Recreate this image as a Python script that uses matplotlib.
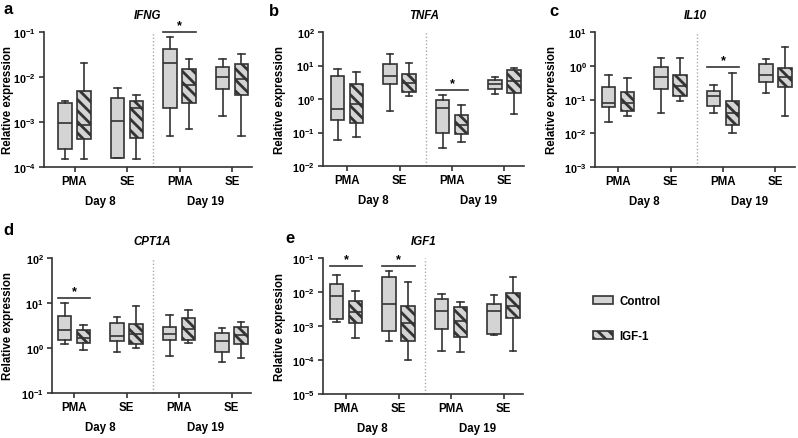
import matplotlib
matplotlib.use("Agg")
import matplotlib.pyplot as plt
from matplotlib.patches import Patch
import numpy as np

plt.rcParams['font.family'] = ['Liberation Sans', 'DejaVu Sans']
plt.rcParams['font.weight'] = 'bold'
plt.rcParams['mathtext.fontset'] = 'custom'
plt.rcParams['mathtext.rm'] = 'Liberation Sans:bold'
plt.rcParams['mathtext.bf'] = 'Liberation Sans:bold'
plt.rcParams['mathtext.it'] = 'Liberation Sans:italic:bold'
plt.rcParams['mathtext.default'] = 'bf'
plt.rcParams['hatch.linewidth'] = 2.0

# ---- data: each box = [whisker low, Q1, median, Q3, whisker high]
# order: D8 PMA ctrl, D8 PMA IGF, D8 SE ctrl, D8 SE IGF, D19 PMA ctrl, D19 PMA IGF, D19 SE ctrl, D19 SE IGF
ifng = [[0.00015, 0.00025, 0.00093, 0.0026, 0.003],
        [0.00015, 0.00042, 0.00085, 0.0048, 0.02],
        [0.000155, 0.000158, 0.00107, 0.0034, 0.0058],
        [0.00015, 0.00045, 0.0021, 0.003, 0.0039],
        [0.0005, 0.002, 0.02, 0.041, 0.079],
        [0.00069, 0.0027, 0.0067, 0.0148, 0.0245],
        [0.00138, 0.0054, 0.0102, 0.0163, 0.0245],
        [0.00048, 0.004, 0.0091, 0.0196, 0.033]]
tnfa = [[0.06, 0.24, 0.52, 4.9, 8.1],
        [0.074, 0.19, 0.7, 2.9, 6.3],
        [0.44, 2.9, 4.7, 11, 22],
        [1.2, 1.66, 3.0, 5.5, 12],
        [0.035, 0.095, 0.55, 0.92, 1.33],
        [0.052, 0.093, 0.17, 0.33, 0.65],
        [1.38, 2.0, 2.9, 3.8, 4.4],
        [0.35, 1.52, 3.5, 7.2, 8.5]]
il10 = [[0.022, 0.062, 0.077, 0.24, 0.53],
        [0.033, 0.045, 0.08, 0.17, 0.42],
        [0.041, 0.21, 0.48, 0.89, 1.7],
        [0.089, 0.125, 0.25, 0.52, 1.75],
        [0.040, 0.066, 0.125, 0.18, 0.27],
        [0.01, 0.017, 0.04, 0.089, 0.59],
        [0.16, 0.34, 0.53, 1.1, 1.6],
        [0.032, 0.23, 0.45, 0.85, 3.5]]
cpt1a = [[1.25, 1.48, 2.5, 5.2, 9.8],
         [0.89, 1.29, 1.7, 2.5, 3.3],
         [0.82, 1.45, 1.88, 3.6, 4.9],
         [0.98, 1.25, 2.0, 3.5, 8.7],
         [0.65, 1.48, 2.0, 2.9, 5.4],
         [1.29, 1.54, 2.6, 4.7, 6.9],
         [0.50, 0.80, 1.41, 2.15, 2.8],
         [0.60, 1.2, 1.9, 2.96, 3.7]]
igf1 = [[0.0013, 0.0016, 0.0076, 0.0175, 0.032],
        [0.00044, 0.00123, 0.0025, 0.0054, 0.011],
        [0.00036, 0.0007, 0.0043, 0.0276, 0.041],
        [0.0001, 0.00037, 0.0012, 0.0038, 0.0196],
        [0.00019, 0.00083, 0.0028, 0.0063, 0.0087],
        [0.000173, 0.00048, 0.0014, 0.0036, 0.0052],
        [0.00056, 0.0006, 0.0028, 0.0044, 0.0081],
        [0.00019, 0.0017, 0.004, 0.0095, 0.0275]]

genes = ['IFNG', 'TNFA', 'IL10', 'CPT1A', 'IGF1']
letters = ['a', 'b', 'c', 'd', 'e']
stats_all = [ifng, tnfa, il10, cpt1a, igf1]
ylims_exp = [(-4, -1), (-2, 2), (-3, 1), (-1, 2), (-5, -1)]
# significance: (group index, bar height)
sig_groups = [[(2, 0.1)], [(2, 1.86)], [(2, 0.93)], [(0, 13.2)], [(0, 0.057), (1, 0.057)]]
group_labels = ['PMA', 'SE', 'PMA', 'SE']
day_labels = ['Day 8', 'Day 19']
legend_labels = ['Control', 'IGF-1']

W, H = 798, 439
fig = plt.figure(figsize=(W / 100, H / 100), dpi=100)

# layout (pixels): left spine, first group centre, top, bottom
layout = [(44, 74.5, 33, 168), (323, 347, 33, 167), (595, 618, 33, 168),
          (52, 74, 259, 394), (323, 346, 259, 395)]
ylabel_x = [8, 280, 552, 8, 280]
letter_pos = [(3, 10), (269, 11), (549, 11), (3, 231), (285, 239)]
SP = 52.5  # px per group
OFF = 0.18
BW = 0.26
EDGE = '#333333'
FACE = '#d4d4d4'
FS = 8.3

for k in range(5):
    left, g1, top, bot = layout[k]
    xl = 1 - (g1 - left) / SP
    xr = 4.38
    wpx = (xr - xl) * SP
    ax = fig.add_axes([left / W, 1 - bot / H, wpx / W, (bot - top) / H])
    stats = []
    for s in stats_all[k]:
        stats.append(dict(whislo=s[0], q1=s[1], med=s[2], q3=s[3], whishi=s[4], fliers=[]))
    pos = []
    for g in range(4):
        pos += [g + 1 - OFF, g + 1 + OFF]
    bp = ax.bxp(stats, positions=pos, widths=BW, patch_artist=True, showfliers=False,
                boxprops=dict(facecolor=FACE, edgecolor=EDGE, linewidth=1.2),
                medianprops=dict(color=EDGE, linewidth=1.2),
                whiskerprops=dict(color=EDGE, linewidth=1.2),
                capprops=dict(color=EDGE, linewidth=1.2),
                capwidths=BW * 0.5)
    for i, b in enumerate(bp['boxes']):
        if i % 2 == 1:
            b.set_hatch('\\\\\\')
    ax.set_yscale('log')
    lo, hi = ylims_exp[k]
    ax.set_ylim(10.0 ** lo, 10.0 ** hi)
    ax.set_xlim(xl, xr)
    yt = [10.0 ** e for e in range(lo, hi + 1)]
    ax.yaxis.set_major_locator(matplotlib.ticker.FixedLocator(yt))
    ax.yaxis.set_minor_locator(matplotlib.ticker.NullLocator())
    ax.set_yticklabels([r'$10^{%d}$' % e for e in range(lo, hi + 1)])
    ax.set_xticks([1, 2, 3, 4])
    ax.set_xticklabels(group_labels)
    ax.tick_params(axis='both', labelsize=FS, width=1.2, length=3.5, color=EDGE, pad=2.5)
    ax.tick_params(axis='y', labelsize=7.8)
    for sp in ['top', 'right']:
        ax.spines[sp].set_visible(False)
    for sp in ['left', 'bottom']:
        ax.spines[sp].set_linewidth(1.2)
        ax.spines[sp].set_color(EDGE)
    ax.axvline(2.5, color='#aaaaaa', linestyle=(0, (1, 1.5)), linewidth=1)
    ax.set_ylabel('Relative expression', fontsize=FS, fontweight='bold', va='center')
    ax.yaxis.set_label_coords((ylabel_x[k] - left) / wpx, 0.5)
    ax.set_title(genes[k], fontsize=FS, fontweight='bold', style='italic', pad=10)
    for d, lab in enumerate(day_labels):
        ax.annotate(lab, xy=(1.5 + 2 * d, 0), xycoords=('data', 'axes fraction'),
                    xytext=(0, -24.5), textcoords='offset points',
                    ha='center', va='center', fontsize=FS, fontweight='bold')
    for g, yv in sig_groups[k]:
        x0 = g + 1 - OFF - BW / 2
        x1 = g + 1 + OFF + BW / 2
        ax.plot([x0, x1], [yv, yv], color=EDGE, linewidth=1.2, clip_on=False)
        ax.annotate('*', xy=((x0 + x1) / 2, yv), xytext=(0, 0.5), textcoords='offset points',
                    ha='center', va='bottom', fontsize=9, fontweight='bold',
                    annotation_clip=False)
    lx, ly = letter_pos[k]
    fig.text(lx / W, 1 - ly / H, letters[k], fontsize=12, fontweight='bold',
             ha='left', va='center')

handles = [Patch(facecolor=FACE, edgecolor=EDGE, linewidth=1.2),
           Patch(facecolor=FACE, edgecolor=EDGE, linewidth=1.2, hatch='\\\\\\')]
fig.legend(handles, legend_labels, loc='upper left', bbox_to_anchor=(593 / W, 1 - 296 / H),
           frameon=False, handlelength=1.7, handleheight=0.75,
           labelspacing=2.0, borderpad=0, borderaxespad=0, handletextpad=0.6,
           prop=dict(weight='bold', size=FS))

fig.savefig('out.png', dpi=100)
